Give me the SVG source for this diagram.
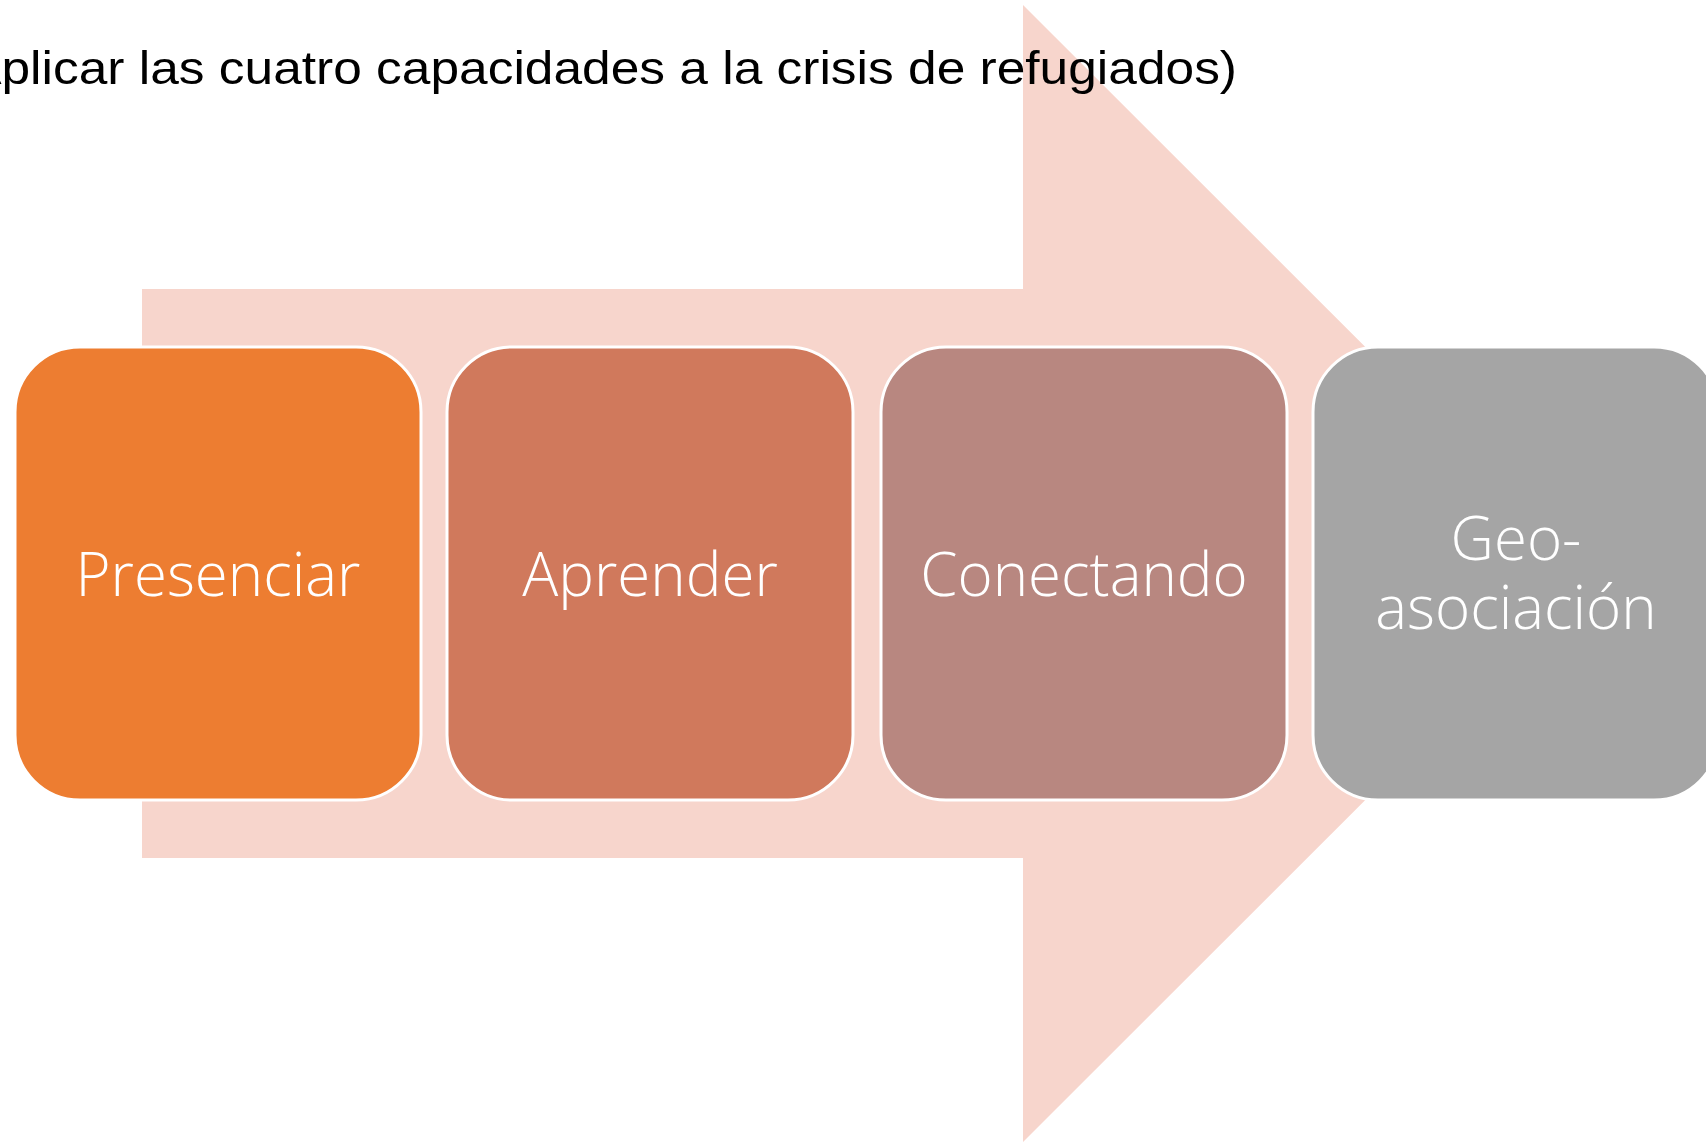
<svg xmlns="http://www.w3.org/2000/svg" width="1706" height="1143" viewBox="0 0 1706 1143">
  <style>
    .node rect { stroke: #FFFFFF; stroke-width: 3; }
    .lbl { font-family: "Open Sans", "Noto Sans", "DejaVu Sans", sans-serif; font-weight: 300; font-size: 60px; fill: #FFFFFF; text-anchor: middle; }
    .title { font-family: "Liberation Sans", Arial, sans-serif; font-size: 46px; fill: #000000; }
  </style>
  <rect x="0" y="0" width="1706" height="1143" fill="#FFFFFF"/>
  <g id="connectors">
    <polygon id="big-arrow" points="142,289 1023,289 1023,5 1592,573.5 1023,1142 1023,858 142,858" fill="#F7D5CC"/>
  </g>
  <text class="title" x="-50" y="84" textLength="1287" lengthAdjust="spacingAndGlyphs">(Aplicar las cuatro capacidades a la crisis de refugiados)</text>
  <g id="node-presenciar" class="node">
    <rect x="15" y="347" width="406" height="453" rx="65" ry="65" fill="#ED7D31"/>
    <text class="lbl" x="218" y="596">Presenciar</text>
  </g>
  <g id="node-aprender" class="node">
    <rect x="447" y="347" width="406" height="453" rx="65" ry="65" fill="#D0795C"/>
    <text class="lbl" x="650" y="596">Aprender</text>
  </g>
  <g id="node-conectando" class="node">
    <rect x="881" y="347" width="406" height="453" rx="65" ry="65" fill="#B88780"/>
    <text class="lbl" x="1084" y="596">Conectando</text>
  </g>
  <g id="node-geoasociacion" class="node">
    <rect x="1313" y="347" width="406" height="453" rx="65" ry="65" fill="#A5A5A5"/>
    <text class="lbl" x="1516" y="560">Geo-</text>
    <text class="lbl" x="1516" y="629">asociación</text>
  </g>
</svg>
